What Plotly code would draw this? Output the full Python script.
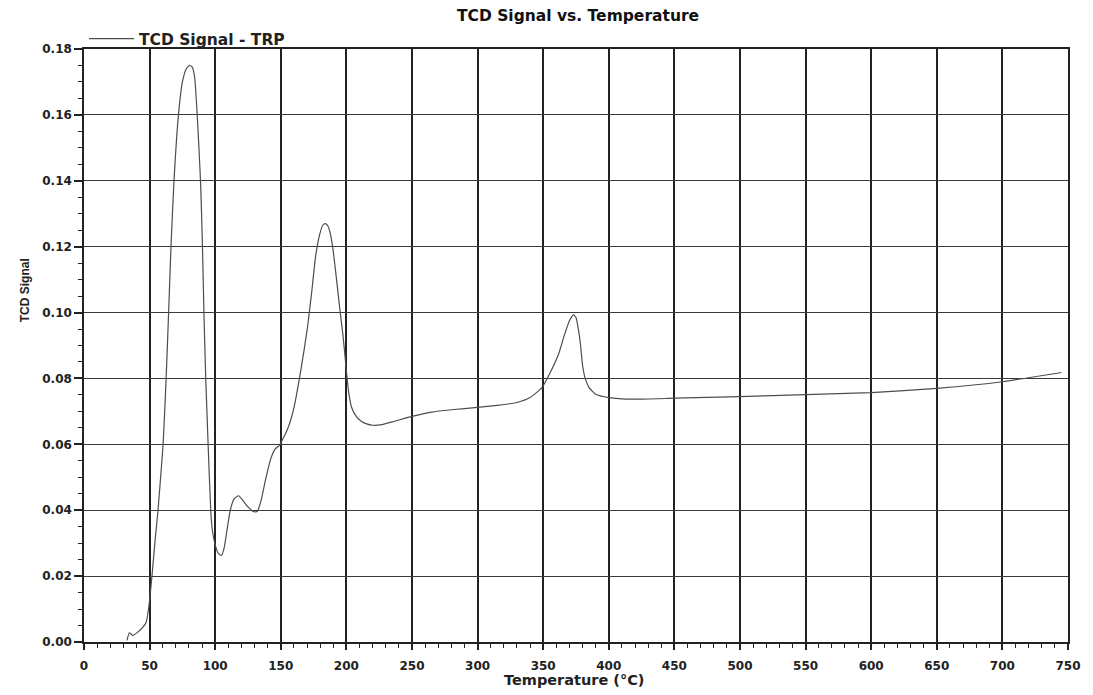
import plotly.graph_objects as go

# Data
temperature_c = [
    32.8, 34.6, 37.2, 41.0, 44.9, 47.4, 49.5, 51.8, 54.0, 56.4, 58.4, 60.3, 62.6,
    64.5, 66.3, 68.6, 72.0, 75.0, 78.0, 80.5, 82.5, 84.3, 86.0, 87.6, 89.0, 90.3,
    91.4, 92.8, 94.6, 96.6, 97.8, 100.0, 102.5, 104.8, 106.8, 109.0, 111.5, 114.5,
    117.9, 121.0, 125.0, 129.0, 132.0, 135.0, 138.5, 142.3, 145.5, 148.7, 152.0, 155.1,
    158.0, 161.0, 164.1, 167.5, 170.5, 173.5, 176.5, 179.5, 182.0, 184.0, 186.0, 188.0,
    190.0, 192.5, 195.0, 197.4, 199.5, 201.5, 204.0, 207.5, 211.0, 215.4, 220.0, 226.0,
    235.0, 250.0, 265.0, 280.0, 300.0, 315.0, 330.0, 340.0, 349.0, 355.0, 361.8, 366.0,
    370.0, 373.0, 375.0, 377.0, 378.5, 380.0, 382.0, 385.0, 390.0, 400.0, 418.0, 450.0,
    500.0, 550.0, 600.0, 650.0, 700.0, 745.0,
]
tcd_signal = [
    0.0005, 0.0028, 0.0020, 0.0030, 0.0045, 0.0060, 0.0110, 0.0200, 0.0300, 0.0400, 0.0500,
    0.0600, 0.0800, 0.1000, 0.1200, 0.1400, 0.1600, 0.1700, 0.1740, 0.1750, 0.1745, 0.1715,
    0.1620, 0.1500, 0.1380, 0.1200, 0.1000, 0.0800, 0.0600, 0.0400, 0.0340, 0.0295, 0.0268,
    0.0263, 0.0285, 0.0340, 0.0400, 0.0435, 0.0444, 0.0430, 0.0410, 0.0396, 0.0396, 0.0430,
    0.0495, 0.0556, 0.0585, 0.0596, 0.0620, 0.0646, 0.0680, 0.0730, 0.0798, 0.0880, 0.0960,
    0.1060, 0.1170, 0.1235, 0.1265, 0.1270, 0.1262, 0.1235, 0.1185, 0.1100, 0.1010, 0.0930,
    0.0845, 0.0765, 0.0712, 0.0685, 0.0671, 0.0662, 0.0658, 0.0659, 0.0668, 0.0685, 0.0698,
    0.0705, 0.0712, 0.0718, 0.0727, 0.0742, 0.0772, 0.0815, 0.0875, 0.0930, 0.0975, 0.0993,
    0.0985, 0.0945, 0.0900, 0.0840, 0.0800, 0.0772, 0.0752, 0.0742, 0.0737, 0.0740, 0.0745,
    0.0751, 0.0757, 0.0770, 0.0790, 0.0818,
]
x_ticks = list(range(0, 751, 50))
y_ticks = [0.00, 0.02, 0.04, 0.06, 0.08, 0.10, 0.12, 0.14, 0.16, 0.18]

fig = go.Figure()
fig.add_trace(go.Scatter(
    x=temperature_c, y=tcd_signal, mode="lines", name="TCD Signal - TRP",
    line=dict(color="#4d4d4d", width=1.2, shape="spline", smoothing=0.5),
))

W, H = 1093, 695
ml, mr, mt, mb = 84, 21, 49, 53
pw, ph = W - ml - mr, H - mt - mb

tick_font = dict(family="DejaVu Sans", size=12, color="#222", weight="bold")

fig.update_layout(
    width=W, height=H,
    margin=dict(l=ml, r=mr, t=mt, b=mb),
    paper_bgcolor="white", plot_bgcolor="white",
    showlegend=True,
    legend=dict(
        x=(84 - ml) / pw, xanchor="left",
        y=1 + (mt - 39) / ph, yanchor="middle",
        bgcolor="rgba(0,0,0,0)", borderwidth=0,
        font=dict(family="DejaVu Sans", size=15.5, color="#222", weight="bold"),
        itemwidth=45,
    ),
    xaxis=dict(
        range=[0, 750], tickvals=x_ticks, ticktext=[str(v) for v in x_ticks],
        showgrid=True, gridcolor="#222", gridwidth=1.8,
        zeroline=False, showline=True, linecolor="#222", linewidth=1.5, mirror=True,
        ticks="outside", ticklen=6, tickcolor="#222", tickwidth=1.5,
        ticklabelstandoff=6,
        tickfont=tick_font,
        minor=dict(dtick=10, ticks="outside", ticklen=4, tickcolor="#222", tickwidth=1.2, showgrid=False),
    ),
    yaxis=dict(
        range=[0, 0.18], tickvals=y_ticks, ticktext=[f"{v:.2f}" for v in y_ticks],
        showgrid=True, gridcolor="#3a3a3a", gridwidth=1.2,
        zeroline=False, showline=True, linecolor="#222", linewidth=1.5, mirror=True,
        ticks="outside", ticklen=8, tickcolor="#222", tickwidth=1.5,
        tickfont=tick_font,
        minor=dict(dtick=0.005, ticks="outside", ticklen=4, tickcolor="#222", tickwidth=1.2, showgrid=False),
    ),
    annotations=[
        dict(text="TCD Signal vs. Temperature", xref="paper", yref="paper",
             x=(580 - ml) / pw, y=1 + (mt - 16) / ph, xanchor="center", yanchor="middle",
             showarrow=False, font=dict(family="DejaVu Sans", size=15.5, color="#111", weight="bold")),
        dict(text="Temperature (°C)", xref="paper", yref="paper",
             x=(576 - ml) / pw, y=-(680 - (mt + ph)) / ph, xanchor="center", yanchor="middle",
             showarrow=False, font=dict(family="DejaVu Sans", size=14.5, color="#222", weight="bold")),
        dict(text="TCD Signal", xref="paper", yref="paper", textangle=-90,
             x=-(ml - 25) / pw, y=(mt + ph - 290) / ph, xanchor="center", yanchor="middle",
             showarrow=False, font=dict(family="Liberation Sans", size=12, color="#222", weight="bold")),
    ],
)

fig.write_html("out.html")
